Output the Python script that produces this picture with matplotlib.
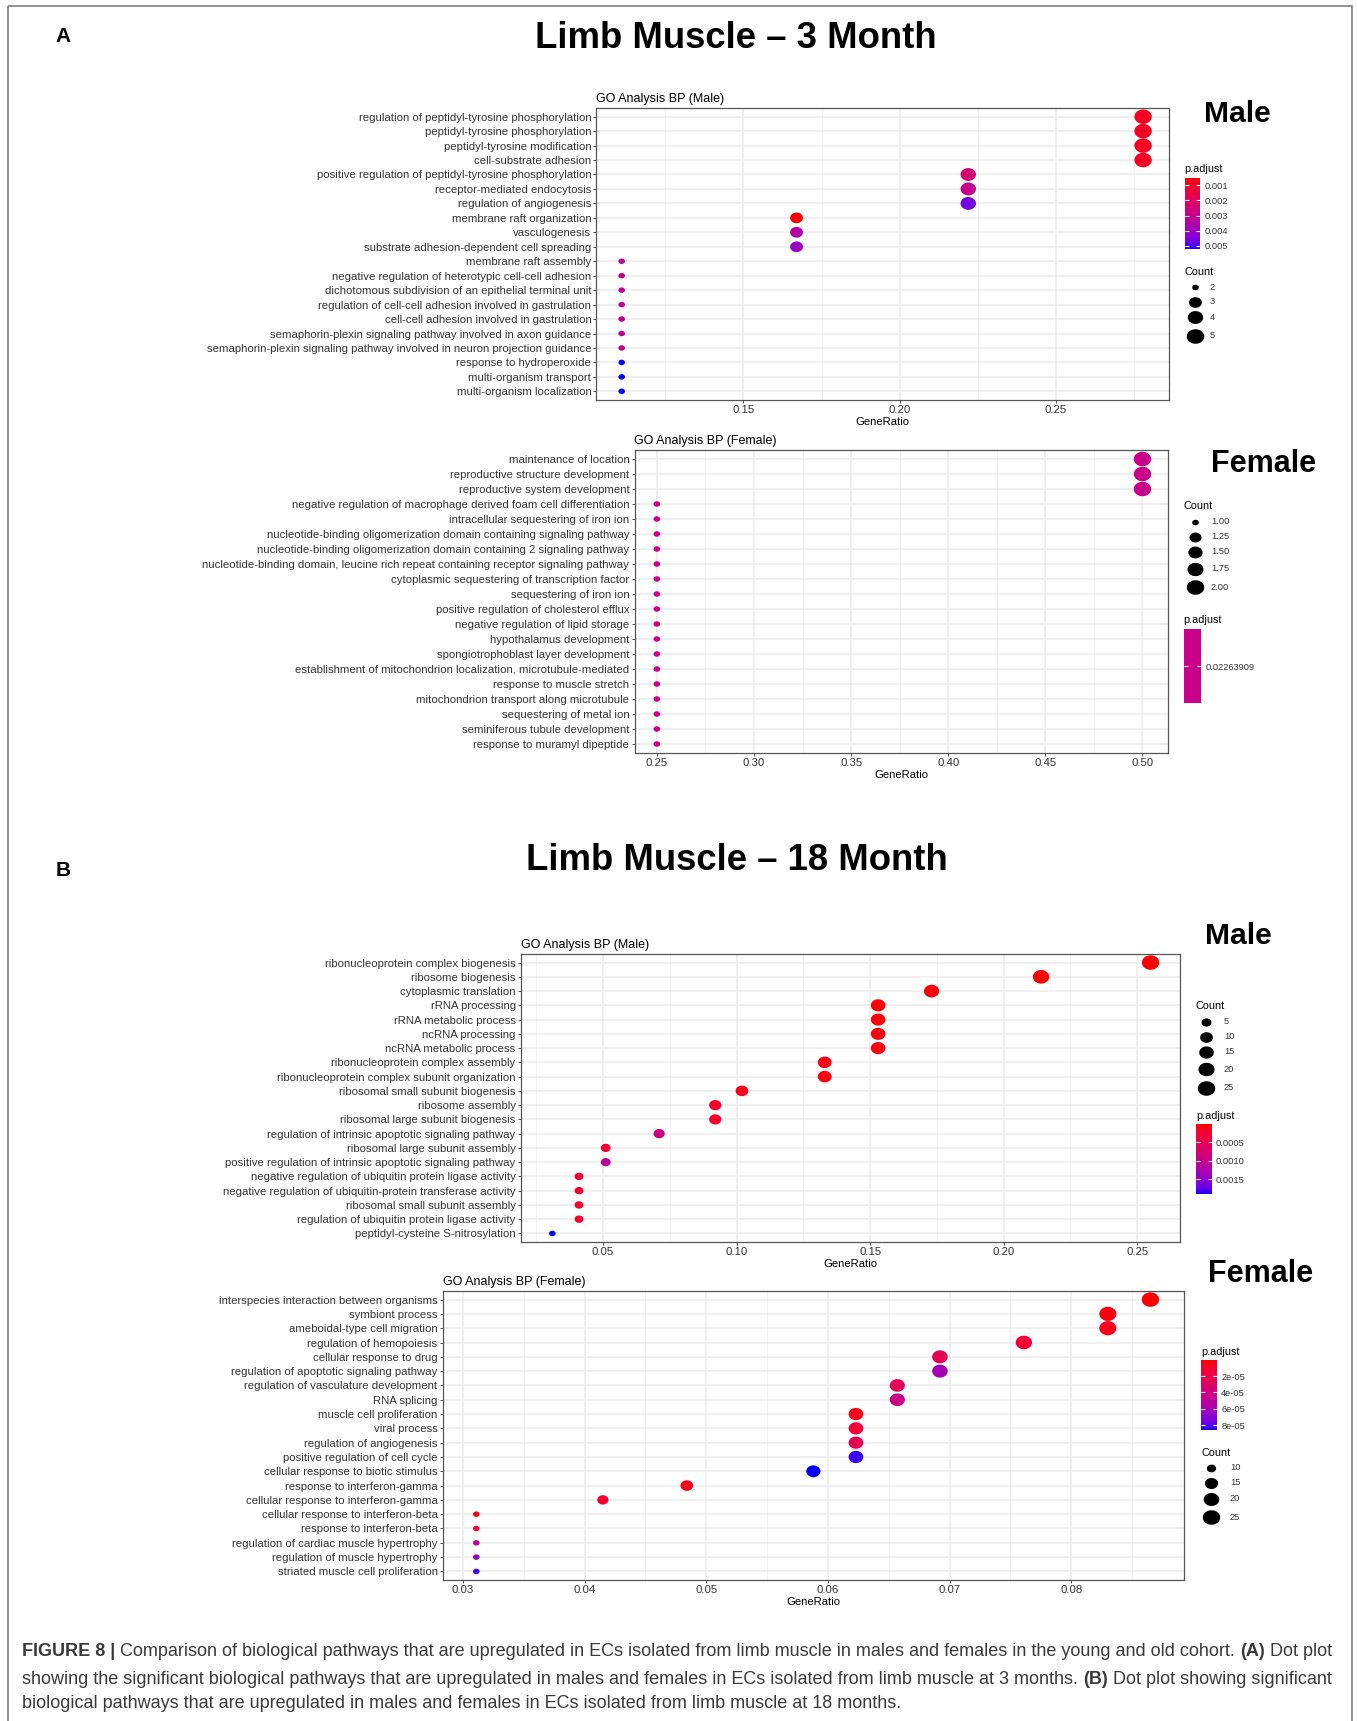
import numpy as np
import matplotlib
matplotlib.use('Agg')
import matplotlib.pyplot as plt
from matplotlib.colors import ListedColormap, Normalize
from matplotlib.cm import ScalarMappable
from matplotlib.markers import MarkerStyle
from matplotlib.path import Path
from matplotlib.patches import Rectangle

plt.rcParams['font.family'] = ['Liberation Sans', 'DejaVu Sans']

# ---- data ----
m3_terms = ['regulation of peptidyl-tyrosine phosphorylation', 'peptidyl-tyrosine phosphorylation',
            'peptidyl-tyrosine modification', 'cell-substrate adhesion',
            'positive regulation of peptidyl-tyrosine phosphorylation', 'receptor-mediated endocytosis',
            'regulation of angiogenesis', 'membrane raft organization', 'vasculogenesis',
            'substrate adhesion-dependent cell spreading', 'membrane raft assembly',
            'negative regulation of heterotypic cell-cell adhesion',
            'dichotomous subdivision of an epithelial terminal unit',
            'regulation of cell-cell adhesion involved in gastrulation',
            'cell-cell adhesion involved in gastrulation',
            'semaphorin-plexin signaling pathway involved in axon guidance',
            'semaphorin-plexin signaling pathway involved in neuron projection guidance',
            'response to hydroperoxide', 'multi-organism transport', 'multi-organism localization']
m3_ratio = [0.278, 0.278, 0.278, 0.278, 0.222, 0.222, 0.222, 0.167, 0.167, 0.167,
            0.111, 0.111, 0.111, 0.111, 0.111, 0.111, 0.111, 0.111, 0.111, 0.111]
m3_count = [5, 5, 5, 5, 4, 4, 4, 3, 3, 3, 2, 2, 2, 2, 2, 2, 2, 2, 2, 2]
m3_padj = [0.0009, 0.0009, 0.0009, 0.0009, 0.0024, 0.0030, 0.0046, 0.00052, 0.0035, 0.0040,
           0.0031, 0.0031, 0.0031, 0.0031, 0.0031, 0.0031, 0.0031, 0.0052, 0.0052, 0.0052]

f3_terms = ['maintenance of location', 'reproductive structure development', 'reproductive system development',
            'negative regulation of macrophage derived foam cell differentiation',
            'intracellular sequestering of iron ion',
            'nucleotide-binding oligomerization domain containing signaling pathway',
            'nucleotide-binding oligomerization domain containing 2 signaling pathway',
            'nucleotide-binding domain, leucine rich repeat containing receptor signaling pathway',
            'cytoplasmic sequestering of transcription factor', 'sequestering of iron ion',
            'positive regulation of cholesterol efflux', 'negative regulation of lipid storage',
            'hypothalamus development', 'spongiotrophoblast layer development',
            'establishment of mitochondrion localization, microtubule-mediated',
            'response to muscle stretch', 'mitochondrion transport along microtubule',
            'sequestering of metal ion', 'seminiferous tubule development', 'response to muramyl dipeptide']
f3_ratio = [0.50, 0.50, 0.50] + [0.25] * 17
f3_count = [2, 2, 2] + [1] * 17
f3_padj = [0.02263909] * 20

m18_terms = ['ribonucleoprotein complex biogenesis', 'ribosome biogenesis', 'cytoplasmic translation',
             'rRNA processing', 'rRNA metabolic process', 'ncRNA processing', 'ncRNA metabolic process',
             'ribonucleoprotein complex assembly', 'ribonucleoprotein complex subunit organization',
             'ribosomal small subunit biogenesis', 'ribosome assembly', 'ribosomal large subunit biogenesis',
             'regulation of intrinsic apoptotic signaling pathway', 'ribosomal large subunit assembly',
             'positive regulation of intrinsic apoptotic signaling pathway',
             'negative regulation of ubiquitin protein ligase activity',
             'negative regulation of ubiquitin-protein transferase activity',
             'ribosomal small subunit assembly', 'regulation of ubiquitin protein ligase activity',
             'peptidyl-cysteine S-nitrosylation']
m18_ratio = [0.255, 0.214, 0.173, 0.153, 0.153, 0.153, 0.153, 0.133, 0.133, 0.102,
             0.092, 0.092, 0.071, 0.051, 0.051, 0.041, 0.041, 0.041, 0.041, 0.031]
m18_count = [25, 21, 17, 15, 15, 15, 15, 13, 13, 10, 9, 9, 7, 5, 5, 4, 4, 4, 4, 3]
m18_padj = [1e-6, 5e-6, 2e-5, 3e-5, 3e-5, 4e-5, 4e-5, 6e-5, 6e-5, 1.2e-4,
            2e-4, 2e-4, 0.0009, 2.5e-4, 0.0011, 2.5e-4, 2.5e-4, 2.5e-4, 2.5e-4, 0.0019]

f18_terms = ['interspecies interaction between organisms', 'symbiont process', 'ameboidal-type cell migration',
             'regulation of hemopoiesis', 'cellular response to drug', 'regulation of apoptotic signaling pathway',
             'regulation of vasculature development', 'RNA splicing', 'muscle cell proliferation',
             'viral process', 'regulation of angiogenesis', 'positive regulation of cell cycle',
             'cellular response to biotic stimulus', 'response to interferon-gamma',
             'cellular response to interferon-gamma', 'cellular response to interferon-beta',
             'response to interferon-beta', 'regulation of cardiac muscle hypertrophy',
             'regulation of muscle hypertrophy', 'striated muscle cell proliferation']
f18_ratio = [0.0865, 0.0830, 0.0830, 0.0761, 0.0692, 0.0692, 0.0657, 0.0657, 0.0623, 0.0623,
             0.0623, 0.0623, 0.0588, 0.0484, 0.0415, 0.0311, 0.0311, 0.0311, 0.0311, 0.0311]
f18_count = [25, 24, 24, 22, 20, 20, 19, 19, 18, 18, 18, 18, 17, 14, 12, 9, 9, 9, 9, 9]
f18_padj = [2e-7, 3e-6, 5e-6, 1.2e-5, 2.2e-5, 6e-5, 2.6e-5, 4.3e-5, 5e-6, 1.3e-5,
            2.2e-5, 8.3e-5, 8.6e-5, 4e-6, 1e-5, 4e-6, 1.3e-5, 5.3e-5, 6.5e-5, 8.2e-5]

caption = [
    [('FIGURE 8 |', True), ('Comparison of biological pathways that are upregulated in ECs isolated from limb muscle '
                            'in males and females in the young and old cohort.', False), ('(A)', True), ('Dot plot', False)],
    [('showing the significant biological pathways that are upregulated in males and females in ECs isolated '
      'from limb muscle at 3 months.', False), ('(B)', True), ('Dot plot showing significant', False)],
    [('biological pathways that are upregulated in males and females in ECs isolated from limb muscle at 18 months.', False)],
]

W, H = 1357, 1721
fig = plt.figure(figsize=(W / 100, H / 100), dpi=100)


def frac(x0, y0, x1, y1):
    return [x0 / W, 1 - y1 / H, (x1 - x0) / W, (y1 - y0) / H]


# red -> blue gradient interpolated in Lab, like ggplot's scale_color_continuous
M = np.array([[0.4124564, 0.3575761, 0.1804375],
              [0.2126729, 0.7151522, 0.0721750],
              [0.0193339, 0.1191920, 0.9503041]])
WHITE = np.array([0.95047, 1.0, 1.08883])


def srgb_to_lab(c):
    c = np.asarray(c, float)
    lin = np.where(c <= 0.04045, c / 12.92, ((c + 0.055) / 1.055) ** 2.4)
    xyz = (M @ lin) / WHITE
    f = np.where(xyz > 0.008856, np.cbrt(xyz), 7.787 * xyz + 16 / 116)
    return np.array([116 * f[1] - 16, 500 * (f[0] - f[1]), 200 * (f[1] - f[2])])


def lab_to_srgb(lab):
    L, a, b = lab
    fy = (L + 16) / 116
    f = np.array([fy + a / 500, fy, fy - b / 200])
    xyz = np.where(f ** 3 > 0.008856, f ** 3, (f - 16 / 116) / 7.787) * WHITE
    lin = np.clip(np.linalg.inv(M) @ xyz, 0, 1)
    c = np.where(lin <= 0.0031308, 12.92 * lin, 1.055 * lin ** (1 / 2.4) - 0.055)
    return np.clip(c, 0, 1)


lab_r, lab_b = srgb_to_lab([1, 0, 0]), srgb_to_lab([0, 0, 1])
cmap = ListedColormap([lab_to_srgb(lab_r + t * (lab_b - lab_r)) for t in np.linspace(0, 1, 256)])

th = np.linspace(0, 2 * np.pi, 64)
oval = MarkerStyle(Path(np.column_stack([1.2 * np.cos(th), np.sin(th)]), closed=True))


def dot_h(c, cmin, cmax):
    return 5.5 + 9.0 * np.sqrt((np.asarray(c, float) - cmin) / (cmax - cmin))


def dot_s(h):
    return (1.2 * np.asarray(h) * 0.72) ** 2


def dot_panel(box, terms, ratio, count, padj, xlim, xticks, xminor, title, norm, colors=None):
    ax = fig.add_axes(frac(*box))
    n = len(terms)
    ypos = np.arange(n)[::-1]
    if colors is None:
        colors = cmap(norm(np.array(padj)))
    h = dot_h(count, min(count), max(count))
    ax.scatter(ratio, ypos, s=dot_s(h), c=colors, marker=oval, linewidths=0, zorder=3)
    ax.set_xlim(*xlim)
    ax.set_ylim(-0.6, n - 0.4)
    ax.set_yticks(ypos)
    ax.set_yticklabels(terms)
    ax.set_xticks(xticks)
    ax.set_xticklabels(['%.2f' % v for v in xticks])
    ax.set_xticks(xminor, minor=True)
    ax.set_axisbelow(True)
    ax.grid(which='major', color='#EBEBEB', lw=1.1)
    ax.grid(which='minor', axis='x', color='#F2F2F2', lw=0.7)
    ax.tick_params(which='minor', length=0)
    ax.tick_params(which='major', length=2.2, width=0.6, color='#333333', pad=1.5,
                   labelsize=8.2, labelcolor='#333333')
    for sp in ax.spines.values():
        sp.set_color('#555555')
        sp.set_linewidth(0.9)
    ax.set_title(title, loc='left', fontsize=9, pad=4)
    ax.set_xlabel('GeneRatio', fontsize=8.1, labelpad=1.5)
    return ax


def color_legend(x0, x1, y_title, y0, y1, norm, cm, ticks, labels):
    ov.text(x0, y_title, 'p.adjust', fontsize=7.8, va='center', ha='left')
    cax = fig.add_axes(frac(x0, y0, x1, y1))
    cb = fig.colorbar(ScalarMappable(norm=norm, cmap=cm), cax=cax)
    cb.outline.set_visible(False)
    cax.invert_yaxis()
    cb.set_ticks(ticks)
    cb.set_ticklabels(labels)
    cax.tick_params(axis='y', direction='in', color='white', length=3, width=0.8, left=True, right=True,
                    labelsize=6.7, labelcolor='#333333', pad=3)


def size_legend(x_title, x_key, x_lab, y_title, y_first, breaks, labels, cmin, cmax):
    ov.text(x_title, y_title, 'Count', fontsize=7.8, va='center', ha='left')
    y, prev = y_first, None
    for b, lab in zip(breaks, labels):
        h = dot_h(b, cmin, cmax)
        k = max(14.5, 1.3 * h + 0.5)
        if prev is not None:
            y += (prev + k) / 2
        ov.scatter([x_key], [y], s=dot_s(h), c='black', marker=oval, linewidths=0)
        ov.text(x_lab, y, lab, fontsize=6.7, va='center', ha='left', color='#333333')
        prev = k


# ---- panels ----
m3_norm = Normalize(min(m3_padj), max(m3_padj))
dot_panel((596.4, 108, 1168.7, 400), m3_terms, m3_ratio, m3_count, m3_padj, (0.1029, 0.2862),
          [0.15, 0.20, 0.25], np.arange(0.125, 0.28, 0.05), 'GO Analysis BP (Male)', m3_norm)

f3_norm = Normalize(f3_padj[0] * 0.99, f3_padj[0] * 1.01)
f3_col = cmap(0.5)
dot_panel((634.5, 450, 1167.7, 753), f3_terms, f3_ratio, f3_count, f3_padj, (0.2385, 0.513),
          [0.25, 0.30, 0.35, 0.40, 0.45, 0.50], np.arange(0.275, 0.51, 0.05), 'GO Analysis BP (Female)',
          f3_norm, colors=[f3_col] * len(f3_padj))

m18_norm = Normalize(min(m18_padj), max(m18_padj))
dot_panel((520.8, 954, 1180.2, 1242), m18_terms, m18_ratio, m18_count, m18_padj, (0.0192, 0.2661),
          [0.05, 0.10, 0.15, 0.20, 0.25], np.arange(0.025, 0.26, 0.05), 'GO Analysis BP (Male)', m18_norm)

f18_norm = Normalize(min(f18_padj), max(f18_padj))
dot_panel((442.7, 1291, 1184.5, 1580), f18_terms, f18_ratio, f18_count, f18_padj, (0.02834, 0.0893),
          [0.03, 0.04, 0.05, 0.06, 0.07, 0.08], np.arange(0.035, 0.089, 0.01), 'GO Analysis BP (Female)',
          f18_norm)

# overlay in pixel coordinates for headings, legends, caption
ov = fig.add_axes([0, 0, 1, 1])
ov.set_xlim(0, W)
ov.set_ylim(H, 0)
ov.axis('off')

ov.add_patch(Rectangle((8, 6), W - 13, H, fill=False, edgecolor='#8a8a8a', lw=1.3))
ov.text(63, 37, 'A', fontsize=15, fontweight='bold', ha='center', va='center')
ov.text(63, 871, 'B', fontsize=15, fontweight='bold', ha='center', va='center')
ov.text(736, 39, 'Limb Muscle \u2013 3 Month', fontsize=26.3, fontweight='bold', ha='center', va='center')
ov.text(737, 861, 'Limb Muscle \u2013 18 Month', fontsize=26.3, fontweight='bold', ha='center', va='center')
ov.text(1237, 114, 'Male', fontsize=21.7, fontweight='bold', ha='center', va='center')
ov.text(1264, 464, 'Female', fontsize=22, fontweight='bold', ha='center', va='center')
ov.text(1238, 936, 'Male', fontsize=21.7, fontweight='bold', ha='center', va='center')
ov.text(1261, 1274, 'Female', fontsize=22, fontweight='bold', ha='center', va='center')

# legends
color_legend(1184.6, 1200.4, 169, 178, 249, m3_norm, cmap,
             [0.001, 0.002, 0.003, 0.004, 0.005], ['0.001', '0.002', '0.003', '0.004', '0.005'])
size_legend(1184.6, 1194.5, 1210, 272, 287, [2, 3, 4, 5], ['2', '3', '4', '5'], min(m3_count), max(m3_count))

size_legend(1183.6, 1194.5, 1210.8, 506, 522, [1.0, 1.25, 1.5, 1.75, 2.0],
            ['1.00', '1.25', '1.50', '1.75', '2.00'], min(f3_count), max(f3_count))
color_legend(1183.6, 1201, 620, 629, 703, f3_norm, ListedColormap([f3_col]),
             [f3_padj[0]], ['0.02263909'])

size_legend(1196, 1206, 1224, 1006, 1022, [5, 10, 15, 20, 25], ['5', '10', '15', '20', '25'],
            min(m18_count), max(m18_count))
color_legend(1196, 1211.5, 1116, 1124, 1194, m18_norm, cmap,
             [0.0005, 0.0010, 0.0015], ['0.0005', '0.0010', '0.0015'])

color_legend(1201, 1217, 1352, 1360, 1430, f18_norm, cmap,
             [2e-5, 4e-5, 6e-5, 8e-5], ['2e-05', '4e-05', '6e-05', '8e-05'])
size_legend(1201, 1211, 1230, 1453, 1468, [10, 15, 20, 25], ['10', '15', '20', '25'],
            min(f18_count), max(f18_count))

# caption with bold runs
renderer = fig.canvas.get_renderer()
cap_fs = 12.95
space = 0.278 * cap_fs * 100 / 72
for row, y in zip(caption, [1652, 1679, 1704]):
    x = 22
    for txt, bold in row:
        t = ov.text(x, y, txt, fontsize=cap_fs, fontweight='bold' if bold else 'normal',
                    color='#3a3a3a', ha='left', va='center')
        x += t.get_window_extent(renderer=renderer).width + space

fig.savefig('out.png', dpi=100)
